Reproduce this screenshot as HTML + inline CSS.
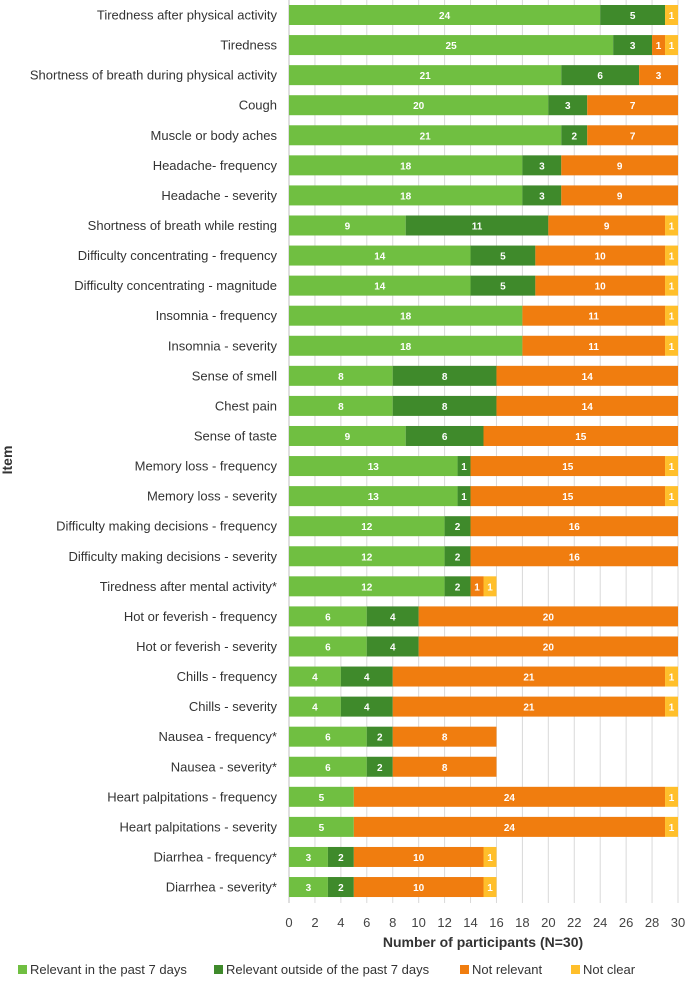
<!DOCTYPE html>
<html><head><meta charset="utf-8"><style>
body{margin:0;background:#fff;font-family:"Liberation Sans",sans-serif;}
</style></head><body>
<svg id="c" width="685" height="978" xmlns="http://www.w3.org/2000/svg" font-family="Liberation Sans, sans-serif"></svg>
<script>
const items=["Tiredness after physical activity","Tiredness","Shortness of breath during physical activity","Cough","Muscle or body aches","Headache- frequency","Headache - severity","Shortness of breath while resting","Difficulty concentrating - frequency","Difficulty concentrating - magnitude","Insomnia - frequency","Insomnia - severity","Sense of smell","Chest pain","Sense of taste","Memory loss - frequency","Memory loss - severity","Difficulty making decisions - frequency","Difficulty making decisions - severity","Tiredness after mental activity*","Hot or feverish - frequency","Hot or feverish - severity","Chills - frequency","Chills - severity","Nausea - frequency*","Nausea - severity*","Heart palpitations - frequency","Heart palpitations - severity","Diarrhea - frequency*","Diarrhea - severity*"];
const relevant=[24,25,21,20,21,18,18,9,14,14,18,18,8,8,9,13,13,12,12,12,6,6,4,4,6,6,5,5,3,3];
const outside=[5,3,6,3,2,3,3,11,5,5,0,0,8,8,6,1,1,2,2,2,4,4,4,4,2,2,0,0,2,2];
const notRelevant=[0,1,3,7,7,9,9,9,10,10,11,11,14,14,15,15,15,16,16,1,20,20,21,21,8,8,24,24,10,10];
const notClear=[1,1,0,0,0,0,0,1,1,1,1,1,0,0,0,1,1,0,0,1,0,0,1,1,0,0,1,1,1,1];
const ticks=[0,2,4,6,8,10,12,14,16,18,20,22,24,26,28,30];
const seriesNames=["Relevant in the past 7 days","Relevant outside of the past 7 days","Not relevant","Not clear"];
const colors=["#70bf41","#3f8a2b","#f07d0f","#ffbf2b"];
const svg=document.getElementById('c');
const NS="http://www.w3.org/2000/svg";
const x0=289,x1=678,topY=0,rowH=30.07;
const xs=v=>x0+(x1-x0)*v/30;
const yc=i=>15+i*rowH;
function mk(t,a,txt){const e=document.createElementNS(NS,t);for(const k in a)e.setAttribute(k,a[k]);if(txt!==undefined)e.textContent=txt;svg.appendChild(e);return e;}
ticks.forEach(t=>{
 const g=mk('line',{x1:xs(t),x2:xs(t),y1:topY,y2:903,stroke:'#d9d9d9','stroke-width':1});
 
 
 const l=mk('text',{x:xs(t),y:927,'text-anchor':'middle','font-size':13,fill:'#444'},t);
 
 
});
const ax=mk('line',{x1:x0,x2:x0,y1:topY,y2:903,stroke:'#bfbfbf'});


const series=[relevant,outside,notRelevant,notClear];
items.forEach((name,i)=>{
 const lb=mk('text',{x:277,y:yc(i)+4.5,'text-anchor':'end','font-size':13,fill:'#333'},name);
 
 
 let acc=0;
 series.forEach((s,k)=>{
  const v=s[i]; if(!v) return;
  const r=mk('rect',{x:xs(acc),y:yc(i)-10,width:xs(acc+v)-xs(acc),height:20,fill:colors[k]});
  
  
  const t=mk('text',{x:(xs(acc)+xs(acc+v))/2,y:yc(i)+4,'text-anchor':'middle','font-size':10,'font-weight':'bold',fill:'#fff'},v);
  
  
  acc+=v;
 });
});
const yt=mk('text',{x:12,y:460,'text-anchor':'middle','font-size':14,'font-weight':'bold',fill:'#333',transform:'rotate(-90 12 460)'},'Item');


const xt=mk('text',{x:483,y:947,'text-anchor':'middle','font-size':14,'font-weight':'bold',fill:'#333'},'Number of participants (N=30)');


const lx=[18,214,460,571];
seriesNames.forEach((n,k)=>{
 const r=mk('rect',{x:lx[k],y:965,width:9,height:9,fill:colors[k]});
 
 
 const t=mk('text',{x:lx[k]+12,y:974,'font-size':13,fill:'#333'},n);
 
 
});
</script>
</body></html>
